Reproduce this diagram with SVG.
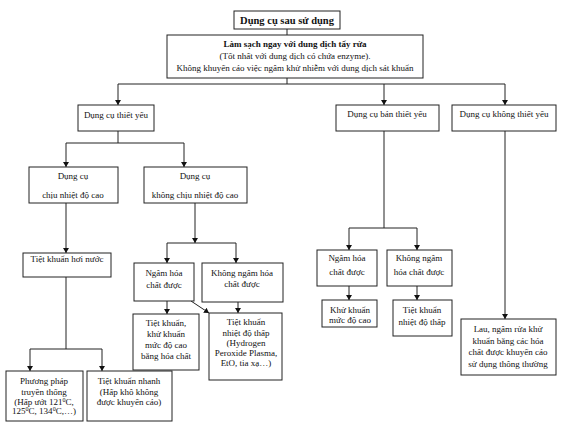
<svg xmlns="http://www.w3.org/2000/svg" width="576" height="438" viewBox="0 0 576 438">
<defs>
<marker id="ah" markerWidth="5" markerHeight="6" refX="5" refY="3" orient="auto" markerUnits="userSpaceOnUse">
<path d="M0,0 L5,3 L0,6 z" fill="#111"/>
</marker>
<style>
rect{fill:#fff;stroke:#222;stroke-width:1}
text{font-family:"Liberation Serif","Times New Roman",serif;font-size:9px;fill:#111;text-anchor:middle}
.b{font-weight:bold}
.t{font-size:10.5px;font-weight:bold}
#connectors path{fill:none;stroke:#222;stroke-width:1}
#connectors .a{marker-end:url(#ah)}
</style>
</defs>
<rect x="0" y="0" width="576" height="438" style="fill:#fff;stroke:none"/>
<g id="connectors">
<path d="M287,29 V35"/>
<path d="M287,78 V84 M118,84 H505"/>
<path class="a" d="M118,84 V105"/>
<path class="a" d="M384,84 V105"/>
<path class="a" d="M505,84 V105"/>
<path d="M118,131 V143 M66,143 H184"/>
<path class="a" d="M66,143 V167"/>
<path class="a" d="M184,143 V167"/>
<path class="a" d="M66,203 V253"/>
<path class="a" d="M195,203 V243"/>
<path d="M167,243 H236"/>
<path class="a" d="M167,243 V263"/>
<path class="a" d="M236,243 V263"/>
<path class="a" d="M167,301 V314"/>
<path class="a" d="M191,301 L209,313"/>
<path class="a" d="M238,302 V313"/>
<path d="M66,277 V349 M30,349 H102"/>
<path class="a" d="M30,349 V371"/>
<path class="a" d="M102,349 V371"/>
<path d="M384,131 V228 M349,228 H417"/>
<path class="a" d="M349,228 V250"/>
<path class="a" d="M417,228 V250"/>
<path class="a" d="M349,286 V300"/>
<path class="a" d="M417,286 V300"/>
<path class="a" d="M505,131 V319"/>
</g>
<g id="n-title"><rect x="234" y="11" width="106" height="18"/><text class="t" x="287" y="24">Dụng cụ sau sử dụng</text></g>
<g id="n-clean"><rect x="167" y="35" width="256" height="43"/>
<text class="b" x="295" y="47">Làm sạch ngay với dung dịch tẩy rửa</text>
<text x="295" y="59">(Tốt nhất với dung dịch có chứa enzyme).</text>
<text x="295" y="71">Không khuyến cáo việc ngâm khử nhiễm với dung dịch sát khuẩn</text></g>
<g id="n-critical"><rect x="78" y="105" width="76" height="26"/><text x="116" y="118">Dụng cụ thiết yếu</text></g>
<g id="n-semi"><rect x="336" y="105" width="103" height="26"/><text x="387" y="117">Dụng cụ bán thiết yếu</text></g>
<g id="n-non"><rect x="452" y="105" width="104" height="26"/><text x="504" y="117">Dụng cụ không thiết yếu</text></g>
<g id="n-heat"><rect x="29" y="167" width="89" height="36"/><text x="73" y="179">Dụng cụ</text><text x="73" y="198">chịu nhiệt độ cao</text></g>
<g id="n-noheat"><rect x="144" y="167" width="103" height="36"/><text x="195" y="179">Dụng cụ</text><text x="195" y="198">không chịu nhiệt độ cao</text></g>
<g id="n-steam"><rect x="23" y="253" width="88" height="24"/><text x="67" y="262">Tiệt khuẩn hơi nước</text></g>
<g id="n-trad"><rect x="6" y="371" width="77" height="50"/>
<text x="44" y="384">Phương pháp</text><text x="44" y="395">truyền thống</text>
<text x="44" y="405">(Hấp ướt 121<tspan dy="-3" font-size="6">0</tspan><tspan dy="3">C,</tspan></text>
<text x="44" y="414">125<tspan dy="-3" font-size="6">0</tspan><tspan dy="3">C, 134</tspan><tspan dy="-3" font-size="6">0</tspan><tspan dy="3">C,…)</tspan></text></g>
<g id="n-fast"><rect x="87" y="371" width="85" height="50"/>
<text x="129" y="384">Tiệt khuẩn nhanh</text><text x="129" y="395">(Hấp khô không</text><text x="129" y="405">được khuyến cáo)</text></g>
<g id="n-soak1"><rect x="134" y="263" width="60" height="38"/><text x="164" y="276">Ngâm hóa</text><text x="164" y="288">chất được</text></g>
<g id="n-nosoak1"><rect x="202" y="263" width="81" height="39"/><text x="242" y="276">Không ngâm hóa</text><text x="242" y="287">chất được</text></g>
<g id="n-chem"><rect x="133" y="314" width="66" height="56"/>
<text x="166" y="326">Tiệt khuẩn,</text><text x="166" y="337">khử khuẩn</text><text x="166" y="348">mức độ cao</text><text x="166" y="359">bằng hóa chất</text></g>
<g id="n-low1"><rect x="209" y="313" width="73" height="67"/>
<text x="246" y="325">Tiệt khuẩn</text><text x="246" y="336">nhiệt độ thấp</text><text x="246" y="346">(Hydrogen</text><text x="246" y="356">Peroxide Plasma,</text><text x="246" y="366">EtO, tia xạ…)</text></g>
<g id="n-soak2"><rect x="317" y="250" width="60" height="36"/><text x="347" y="261">Ngâm hóa</text><text x="347" y="275">chất được</text></g>
<g id="n-nosoak2"><rect x="387" y="250" width="65" height="36"/><text x="419" y="261">Không ngâm</text><text x="419" y="275">hóa chất được</text></g>
<g id="n-hld"><rect x="322" y="300" width="55" height="27"/><text x="350" y="313">Khử khuẩn</text><text x="350" y="323">mức độ cao</text></g>
<g id="n-low2"><rect x="393" y="300" width="59" height="36"/><text x="422" y="313">Tiệt khuẩn</text><text x="422" y="325">nhiệt độ thấp</text></g>
<g id="n-wipe"><rect x="461" y="319" width="95" height="56"/>
<text x="508" y="332">Lau, ngâm rửa khử</text><text x="508" y="344">khuẩn bằng các hóa</text><text x="508" y="355">chất được khuyến cáo</text><text x="508" y="367">sử dụng thông thường</text></g>
</svg>
